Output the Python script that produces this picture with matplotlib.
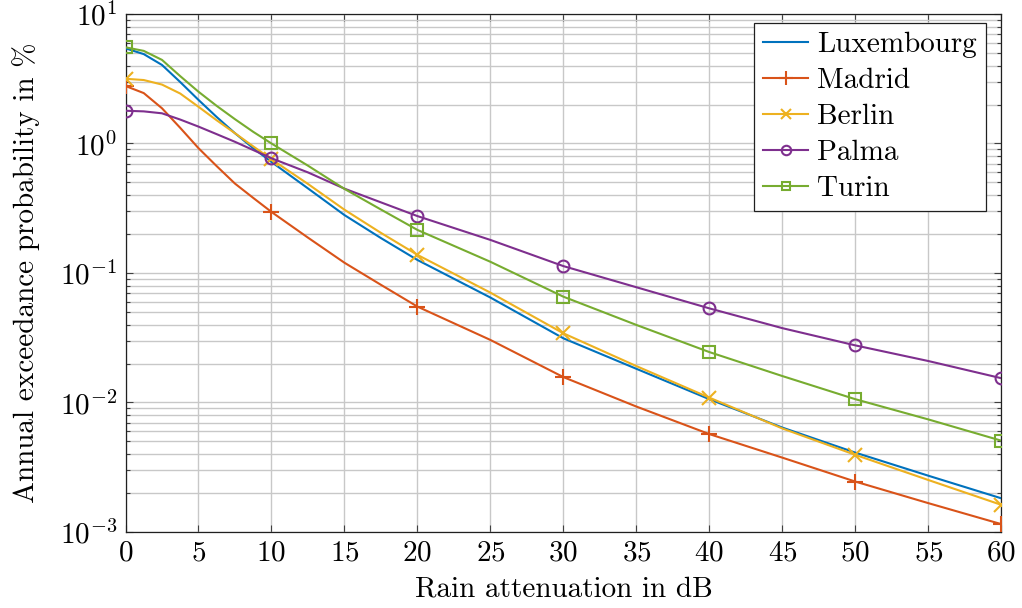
import matplotlib
matplotlib.use('Agg')
import matplotlib.pyplot as plt
from matplotlib.lines import Line2D
from matplotlib.ticker import LogLocator, NullFormatter, MultipleLocator
from matplotlib import rcParams

rcParams['font.family'] = 'serif'
rcParams['font.serif'] = ['cmr10']
rcParams['mathtext.fontset'] = 'cm'
rcParams['axes.formatter.use_mathtext'] = True
rcParams['axes.unicode_minus'] = False
rcParams['font.size'] = 21

# attenuation in dB
atten = [0, 1.25, 2.5, 3.75, 5, 6.25, 7.5, 8.75, 10, 12.5, 15, 17.5, 20,
         25, 30, 35, 40, 45, 50, 55, 60]

# annual exceedance probability in %
luxembourg = [5.43, 4.9, 4.04, 2.98, 2.17, 1.60, 1.20, 0.92, 0.72, 0.45, 0.28, 0.186,
              0.126, 0.0646, 0.0313, 0.0182, 0.0106, 0.0064, 0.0041, 0.00272, 0.00182]
madrid = [2.78, 2.45, 1.87, 1.32, 0.92, 0.668, 0.49, 0.38, 0.296, 0.1875, 0.120, 0.081,
          0.055, 0.0304, 0.0157, 0.0093, 0.0057, 0.00375, 0.00245, 0.00167, 0.00115]
berlin = [3.16, 3.09, 2.85, 2.43, 1.92, 1.51, 1.20, 0.95, 0.755, 0.487, 0.308, 0.204,
          0.138, 0.0705, 0.0342, 0.0191, 0.0109, 0.0063, 0.00394, 0.00252, 0.00162]
palma = [1.79, 1.77, 1.71, 1.53, 1.35, 1.18, 1.03, 0.89, 0.769, 0.598, 0.448, 0.351,
         0.275, 0.180, 0.113, 0.0776, 0.0533, 0.0375, 0.0276, 0.0209, 0.0154]
turin = [5.53, 5.19, 4.42, 3.31, 2.51, 1.95, 1.54, 1.23, 1.0, 0.674, 0.446, 0.309,
         0.215, 0.122, 0.0656, 0.0397, 0.0245, 0.016, 0.0106, 0.0074, 0.00507]

cities = ['Luxembourg', 'Madrid', 'Berlin', 'Palma', 'Turin']
series = [luxembourg, madrid, berlin, palma, turin]
colors = ['#0072BD', '#D95319', '#EDB120', '#7E2F8E', '#77AC30']
markers = [None, '+', 'x', 'o', 's']
msizes = [0, 12, 9.5, 8.5, 8]

fig = plt.figure(figsize=(10.22, 6.08), dpi=100)
ax = fig.add_axes([0.1228, 0.125, 0.857, 0.852])

every10 = [i for i, v in enumerate(atten) if v % 10 == 0]
handles = []
for name, vals, c, m, ms in zip(cities, series, colors, markers, msizes):
    ax.plot(atten, vals, color=c, lw=1.5, marker=m, ms=ms, mew=1.5,
            mfc='none', markevery=every10, zorder=3)
    handles.append(Line2D([], [], color=c, lw=1.5, marker=m, ms=ms * 0.8,
                          mew=1.5, mfc='none'))

ax.set_yscale('log')
ax.set_xlim(0, 60)
ax.set_ylim(1e-3, 1e1)
ax.xaxis.set_major_locator(MultipleLocator(5))
ax.yaxis.set_major_locator(LogLocator(base=10, numticks=10))
ax.yaxis.set_minor_locator(LogLocator(base=10, subs=range(2, 10), numticks=20))
ax.yaxis.set_minor_formatter(NullFormatter())

ax.grid(True, which='major', color='#c8c8c8', lw=1.0)
ax.grid(True, which='minor', axis='y', color='#c8c8c8', lw=1.0)
ax.set_axisbelow(True)

ax.tick_params(which='both', direction='in', top=True, right=True,
               color='#404040')
ax.tick_params(which='major', length=5, width=0.8, pad=6)
ax.tick_params(which='minor', length=3, width=0.8)
for s in ax.spines.values():
    s.set_color('#202020')
    s.set_linewidth(0.9)

ax.set_xlabel('Rain attenuation in dB', labelpad=7)
ax.set_ylabel('Annual exceedance probability in %', labelpad=14)

leg = ax.legend(handles, cities, loc='upper right', bbox_to_anchor=(0.982, 0.983),
                fancybox=False, edgecolor='#202020', framealpha=1,
                handlelength=1.55, handletextpad=0.3, labelspacing=0.33,
                borderpad=0.3, borderaxespad=0)
leg.get_frame().set_linewidth(0.9)

fig.savefig('out.png', dpi=100)
